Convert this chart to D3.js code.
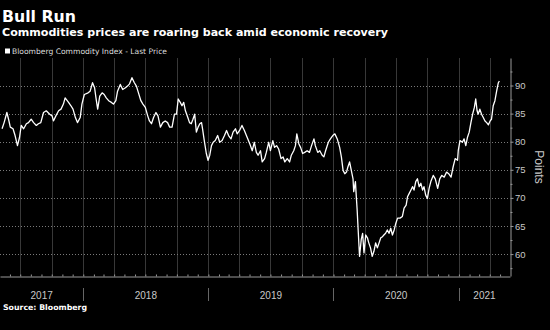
<!DOCTYPE html>
<html>
<head>
<meta charset="utf-8">
<script src="https://cdn.jsdelivr.net/npm/d3@7"></script>
<style>
  html, body { margin: 0; background: #000; }
  svg { display: block; }
</style>
</head>
<body>
<div id="chart"></div>
<script>
// Bloomberg Commodity Index, last price
const dates = [
  "2017-05-09","2017-05-15","2017-05-23","2017-05-28","2017-06-02","2017-06-10","2017-06-16","2017-06-23","2017-06-29",
  "2017-07-04","2017-07-11","2017-07-19","2017-07-25","2017-08-02","2017-08-09","2017-08-17","2017-08-23","2017-08-30",
  "2017-09-07","2017-09-15","2017-09-25","2017-10-02","2017-10-06","2017-10-13","2017-10-21","2017-10-28","2017-11-04",
  "2017-11-09","2017-11-19","2017-11-26","2017-12-02","2017-12-09","2017-12-15","2017-12-23","2017-12-28",
  "2018-01-04","2018-01-15","2018-01-21","2018-01-28","2018-02-03","2018-02-07","2018-02-12","2018-02-18","2018-02-25",
  "2018-03-03","2018-03-09","2018-03-16","2018-03-24","2018-03-30","2018-04-06","2018-04-11","2018-04-19","2018-04-26",
  "2018-05-04","2018-05-10","2018-05-16","2018-05-23","2018-05-30","2018-06-05","2018-06-11","2018-06-18","2018-06-24",
  "2018-07-01","2018-07-08","2018-07-13","2018-07-19","2018-07-25","2018-08-01","2018-08-07","2018-08-14","2018-08-21",
  "2018-08-28","2018-09-04","2018-09-10","2018-09-17","2018-09-24","2018-09-30","2018-10-05","2018-10-11","2018-10-16",
  "2018-10-21","2018-10-26","2018-11-02","2018-11-07","2018-11-12","2018-11-17","2018-11-22","2018-11-27","2018-12-02",
  "2018-12-07","2018-12-12","2018-12-15","2018-12-20","2018-12-26","2018-12-31",
  "2019-01-05","2019-01-10","2019-01-15","2019-01-21","2019-01-28","2019-02-03","2019-02-10","2019-02-17","2019-02-23",
  "2019-03-01","2019-03-08","2019-03-14","2019-03-21","2019-03-26","2019-04-02","2019-04-09","2019-04-16","2019-04-24",
  "2019-05-02","2019-05-09","2019-05-15","2019-05-21","2019-05-26","2019-06-02","2019-06-07","2019-06-14","2019-06-19",
  "2019-06-26","2019-07-01","2019-07-08","2019-07-13","2019-07-19","2019-07-25","2019-08-01","2019-08-07","2019-08-12",
  "2019-08-19","2019-08-26","2019-08-31","2019-09-07","2019-09-12","2019-09-16","2019-09-22","2019-09-27","2019-10-03",
  "2019-10-09","2019-10-16","2019-10-23","2019-10-29","2019-11-05","2019-11-09","2019-11-16","2019-11-22","2019-11-29",
  "2019-12-04","2019-12-09","2019-12-17","2019-12-23","2019-12-30",
  "2020-01-05","2020-01-12","2020-01-19","2020-01-24","2020-01-29","2020-02-03","2020-02-08","2020-02-12","2020-02-17",
  "2020-02-22","2020-02-27","2020-02-29","2020-03-05","2020-03-07","2020-03-10","2020-03-13","2020-03-17","2020-03-22",
  "2020-03-26","2020-03-30","2020-04-04","2020-04-09","2020-04-13","2020-04-18","2020-04-23","2020-04-28","2020-05-03",
  "2020-05-08","2020-05-13","2020-05-18","2020-05-23","2020-05-27","2020-06-01","2020-06-06","2020-06-11","2020-06-16",
  "2020-06-21","2020-06-26","2020-07-01","2020-07-06","2020-07-13","2020-07-20","2020-07-25","2020-07-31","2020-08-04",
  "2020-08-09","2020-08-14","2020-08-19","2020-08-23","2020-08-28","2020-09-02","2020-09-07","2020-09-12","2020-09-17",
  "2020-09-21","2020-09-26","2020-10-01","2020-10-06","2020-10-11","2020-10-18","2020-10-24","2020-10-31","2020-11-06",
  "2020-11-12","2020-11-19","2020-11-26","2020-12-02","2020-12-09","2020-12-15","2020-12-21","2020-12-28","2020-12-30",
  "2021-01-04","2021-01-11","2021-01-16","2021-01-21","2021-01-26","2021-01-31","2021-02-05","2021-02-10","2021-02-15",
  "2021-02-19","2021-02-23","2021-02-26","2021-03-03","2021-03-08","2021-03-13","2021-03-18","2021-03-23","2021-03-28",
  "2021-04-02","2021-04-06","2021-04-11","2021-04-16","2021-04-21","2021-04-26","2021-04-29"
];
const prices = [
  82.3,83.4,85.2,84.0,82.6,82.3,81.1,79.3,80.8,
  82.9,82.3,83.2,83.4,84.0,83.4,82.9,83.2,83.4,
  85.2,85.5,84.9,84.6,83.7,84.6,85.5,85.8,86.7,
  87.8,87.0,86.4,85.8,84.3,83.4,84.3,86.7,
  88.4,88.7,89.0,90.5,89.6,87.8,85.8,88.1,88.7,
  88.4,87.8,87.3,87.0,86.7,87.3,89.0,90.2,89.3,
  89.6,89.9,90.3,91.4,90.5,89.9,88.7,87.3,86.7,
  86.1,84.6,83.7,83.2,84.3,85.2,84.6,82.6,83.4,
  83.7,83.4,82.6,82.6,84.9,84.9,87.6,87.0,86.4,
  87.0,85.5,84.3,83.4,83.2,84.0,84.9,81.7,82.6,
  83.2,83.4,82.3,80.2,77.9,76.7,
  77.6,79.3,79.9,80.2,81.1,79.9,80.2,81.1,82.0,
  81.1,80.5,81.7,82.3,81.4,82.0,82.9,82.0,80.8,
  79.6,78.4,79.9,78.1,77.6,78.4,76.4,77.0,78.1,
  79.9,78.4,80.2,79.0,79.3,78.7,77.0,77.3,76.4,
  77.0,76.4,77.6,78.4,79.3,81.4,79.6,79.0,77.9,
  78.1,78.4,78.1,79.3,80.5,79.3,78.1,78.4,77.6,
  77.3,78.4,79.9,80.5,81.1,
  81.4,80.5,79.0,77.3,74.9,74.3,74.6,75.5,76.4,
  74.9,73.4,71.1,72.9,70.8,67.9,64.3,59.6,62.6,
  63.7,60.2,63.4,62.9,62.0,61.1,59.6,60.5,62.0,
  61.1,62.0,62.9,63.1,63.4,63.7,64.3,63.7,64.6,
  63.4,64.3,65.5,66.4,66.4,66.7,68.2,68.7,70.2,
  70.8,71.4,72.0,71.4,72.9,73.4,72.0,72.6,71.4,
  72.0,70.5,69.9,71.7,72.9,74.0,73.4,71.7,73.4,
  74.0,73.7,74.6,74.3,73.7,75.5,77.0,76.7,78.4,
  80.2,79.9,80.5,79.3,80.8,81.7,83.4,84.9,86.1,
  87.6,85.5,84.9,85.8,84.9,84.3,83.7,83.4,83.0,
  83.7,84.0,86.4,87.3,89.0,90.5,90.8
];
const yTicks = [60, 65, 70, 75, 80, 85, 90];
const yearLabels = ["2017", "2018", "2019", "2020", "2021"];

const width = 550, height = 330;
const plot = { left: 0, right: 510, top: 58, bottom: 276 };
const parse = d3.timeParse("%Y-%m-%d");
const data = dates.map((d, i) => ({ date: parse(d), value: prices[i] }));

const x = d3.scaleTime()
  .domain([parse("2017-05-03"), parse("2021-05-30")])
  .range([plot.left, plot.right]);
const y = d3.scaleLinear()
  .domain([56.1, 94.9])
  .range([plot.bottom, plot.top]);

const svg = d3.select("#chart").append("svg")
  .attr("width", width)
  .attr("height", height)
  .style("background", "#000");

// fit a text element to a measured width
function fit(sel, w) {
  sel.attr("textLength", w).attr("lengthAdjust", "spacingAndGlyphs");
}

// titles
svg.append("text").attr("x", 2).attr("y", 22)
  .attr("font-family", "DejaVu Sans").attr("font-weight", "bold")
  .attr("font-size", 16).attr("fill", "#fff")
  .text("Bull Run").call(fit, 74);
svg.append("text").attr("x", 2).attr("y", 36)
  .attr("font-family", "DejaVu Sans").attr("font-weight", "bold")
  .attr("font-size", 11.2).attr("fill", "#fff")
  .text("Commodities prices are roaring back amid economic recovery").call(fit, 386);

// legend
svg.append("rect").attr("x", 5).attr("y", 48.5).attr("width", 5).attr("height", 5).attr("fill", "#fff");
svg.append("text").attr("x", 12).attr("y", 53.6)
  .attr("font-family", "DejaVu Sans").attr("font-size", 7.6).attr("fill", "#ddd")
  .text("Bloomberg Commodity Index - Last Price").call(fit, 155);

// vertical quarterly grid
svg.append("g")
  .selectAll("line")
  .data(x.ticks(d3.timeMonth.every(3)))
  .join("line")
  .attr("x1", d => Math.round(x(d)) + 0.5).attr("x2", d => Math.round(x(d)) + 0.5)
  .attr("y1", plot.top).attr("y2", plot.bottom)
  .attr("stroke", "#383838").attr("stroke-width", 1);

// horizontal dotted grid
svg.append("g")
  .selectAll("line")
  .data(yTicks)
  .join("line")
  .attr("x1", plot.left).attr("x2", plot.right)
  .attr("y1", d => Math.round(y(d)) + 0.5).attr("y2", d => Math.round(y(d)) + 0.5)
  .attr("stroke", "#7a7a7a").attr("stroke-width", 1).attr("stroke-dasharray", "1,2");

// x axis: monthly ticks pointing up
const xAxis = svg.append("g")
  .attr("transform", `translate(0,${plot.bottom + 0.5})`)
  .call(d3.axisBottom(x).ticks(d3.timeMonth.every(1)).tickSize(-2).tickSizeOuter(0).tickFormat(""));
xAxis.select(".domain").attr("stroke", "#999");
xAxis.selectAll(".tick line").attr("stroke", "#999");

// year separators and labels
const [d0, d1] = x.domain();
svg.append("g")
  .selectAll("line")
  .data(d3.timeYear.range(d0, d1))
  .join("line")
  .attr("x1", d => Math.round(x(d)) + 0.5).attr("x2", d => Math.round(x(d)) + 0.5)
  .attr("y1", 288).attr("y2", 301)
  .attr("stroke", "#666");

svg.append("g")
  .selectAll("text")
  .data(yearLabels)
  .join("text")
  .attr("x", d => {
    const s = new Date(+d, 0, 1), e = new Date(+d + 1, 0, 1);
    return (x(s < d0 ? d0 : s) + x(e > d1 ? d1 : e)) / 2;
  })
  .attr("y", 299)
  .attr("text-anchor", "middle")
  .attr("font-family", "Liberation Sans").attr("font-size", 10).attr("fill", "#c8c8c8")
  .text(d => d);

// y axis on the right
const yAxis = svg.append("g")
  .attr("transform", `translate(${plot.right + 0.5},0)`)
  .call(d3.axisRight(y).tickValues(yTicks).tickSize(3).tickPadding(1.5).tickSizeOuter(0));
yAxis.select(".domain").attr("stroke", "#999");
yAxis.selectAll(".tick line").attr("stroke", "#999");
yAxis.selectAll(".tick text")
  .attr("font-family", "Liberation Sans").attr("font-size", 9.5).attr("fill", "#c8c8c8");

svg.append("g")
  .attr("transform", `translate(${plot.right + 0.5},0)`)
  .call(d3.axisRight(y).tickValues(yTicks.map(v => v - 2.5).concat([92.5])).tickSize(2).tickSizeOuter(0).tickFormat(""))
  .call(g => g.select(".domain").remove())
  .selectAll(".tick line").attr("stroke", "#999");

svg.append("text")
  .attr("transform", `translate(535,167) rotate(90)`)
  .attr("text-anchor", "middle")
  .attr("font-family", "Liberation Sans").attr("font-size", 12).attr("fill", "#c8c8c8")
  .text("Points");

// price line
const line = d3.line()
  .x(d => x(d.date))
  .y(d => y(d.value));

svg.append("path")
  .datum(data)
  .attr("fill", "none")
  .attr("stroke", "#fff")
  .attr("stroke-width", 1.3)
  .attr("stroke-linejoin", "round")
  .attr("d", line);

// source
svg.append("text").attr("x", 3).attr("y", 309.5)
  .attr("font-family", "DejaVu Sans").attr("font-weight", "bold")
  .attr("font-size", 7.8).attr("fill", "#fff")
  .text("Source: Bloomberg").call(fit, 84);
</script>
</body>
</html>
